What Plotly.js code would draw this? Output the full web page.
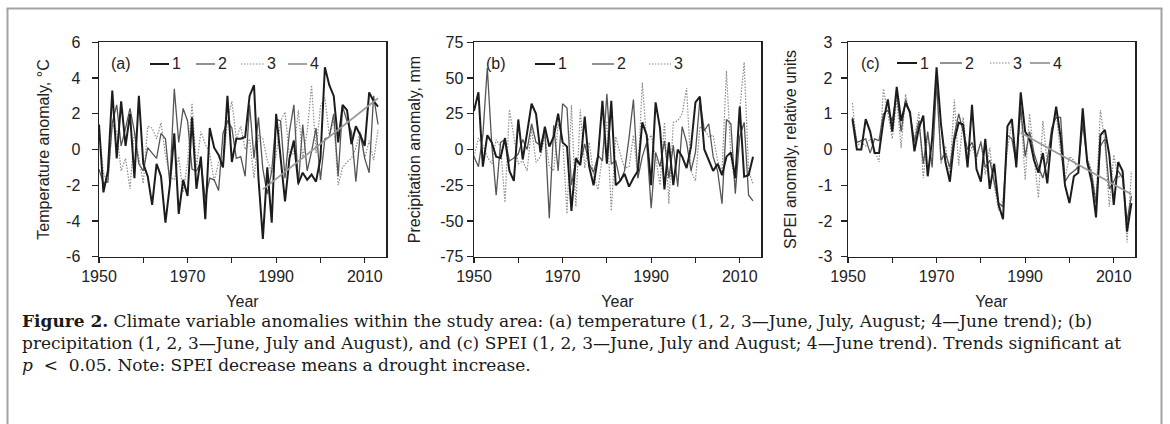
<!DOCTYPE html>
<html><head><meta charset="utf-8">
<script src="https://cdn.plot.ly/plotly-3.0.1.min.js"></script>
<style>html,body{margin:0;padding:0;background:#fff}#chart{width:1170px;height:424px}</style>
</head><body><div id="chart"></div>
<script>
// ---------- DATA ----------
const yearsAB = Array.from({length: 64}, (_, i) => 1950 + i);   // 1950–2013
const yearsC  = Array.from({length: 64}, (_, i) => 1951 + i);   // 1951–2014

// (a) temperature anomaly, °C
const tempJune = [1.4,-2.4,-1.2,3.3,-0.5,2.7,0.2,2.0,-1.6,3.0,-0.8,-1.5,-3.1,-0.8,-1.5,-4.1,-2.0,0.9,-3.6,-1.7,-2.6,1.8,-2.2,-0.4,-3.9,1.2,0.1,-0.3,-1.0,3.0,-0.7,0.6,0.6,0.7,3.0,3.6,-1.6,-5.0,-1.0,-4.1,2.0,-0.3,-2.9,-0.5,0.5,-1.9,-1.3,-1.7,-1.4,-1.8,-0.5,4.6,3.6,3.0,0.4,2.5,2.2,0.3,1.3,0.8,0.2,3.2,2.7,2.4];
const tempJuly = [-1.1,-1.9,-1.8,1.5,2.5,0.2,1.2,2.3,1.0,-0.8,-1.2,0.1,-0.2,-0.5,0.9,0.6,-1.9,3.4,0.4,2.3,1.6,-1.1,-1.2,-0.7,-2.8,-1.6,-1.7,-2.3,0.9,1.6,1.2,-0.5,-0.4,-1.5,2.5,-0.5,1.8,-1.1,-2.5,-1.2,1.7,1.6,-1.6,1.0,2.5,-2.0,1.4,-1.2,-0.1,1.2,-1.7,0.6,0.7,2.0,-1.5,2.4,1.6,1.0,-1.8,0.9,-0.5,-1.3,3.0,1.4];
const tempAug  = [1.2,-1.3,-1.9,1.4,1.0,-1.2,-0.5,-2.2,1.0,-0.5,-1.9,1.3,1.2,0.6,1.5,-0.3,-1.5,-1.7,-0.4,-2.4,-0.7,2.6,-1.0,1.0,0.3,-0.2,-1.8,-0.7,-1.0,1.6,2.7,0.6,1.3,0.0,0.6,-1.6,0.8,0.6,-0.6,-1.3,-0.3,1.6,2.1,-0.4,-0.2,2.2,-0.5,1.0,3.6,-0.2,2.4,2.9,0.8,1.6,-2.0,-1.0,-0.7,-0.5,0.1,1.0,-0.5,0.5,-0.6,1.1];
const tempTrendYears = [1987, 2013];
const tempTrend      = [-2.23, 2.87];

// (b) precipitation anomaly, mm
const precJune = [27,40,-12,10,5,-5,-6,8,-15,-22,21,-7,12,32,25,-2,16,2,9,25,5,2,-43,-6,-11,23,-12,-25,-5,34,-10,34,-25,-22,-17,-26,-20,-15,19,10,-25,33,15,-28,5,-25,0,-5,-13,2,33,37,0,-8,-15,-10,-18,-5,-2,-20,30,-19,-18,-5];
const precJuly = [-5,-12,10,57,4,-32,5,7,-8,-6,-3,7,0,18,5,3,14,-48,17,-15,32,29,-25,-8,-10,4,-10,-16,-4,-8,39,-10,-8,-22,-15,8,35,-20,-5,5,-41,-2,-12,6,-20,3,-26,16,5,-15,-2,35,13,18,-5,-15,-38,21,18,-31,9,19,-32,-36];
const precAug  = [-5,8,3,-5,-10,7,2,-37,28,10,-10,-8,-15,15,-9,-5,10,-12,-15,18,8,-45,31,-40,28,-13,5,-18,-28,-4,20,-43,9,-3,-13,-12,10,-20,47,5,10,-5,-25,19,-38,19,20,25,43,-15,-22,16,14,9,10,-8,-15,55,-5,-25,28,61,-15,-24];

// (c) SPEI anomaly, relative units
const speiJune = [0.85,0.0,0.0,0.85,0.5,-0.1,-0.1,0.8,1.4,0.5,1.75,0.8,1.3,1.05,-0.05,0.6,0.95,-0.75,0.3,2.3,0.7,-0.35,-0.9,0.25,0.75,0.7,-0.5,1.25,-0.55,-0.9,0.3,-1.1,-0.4,-1.55,-1.95,0.65,0.85,-0.5,1.6,0.5,0.3,-0.3,-0.65,-0.1,-0.95,0.4,1.2,0.35,-1.0,-1.5,-0.75,-0.65,1.15,-0.35,-0.9,-1.9,0.4,0.55,-0.15,-1.55,-0.35,-0.6,-2.3,-1.5];
const speiJuly = [0.9,0.2,0.25,0.3,-0.1,0.3,0.25,1.0,1.1,0.8,1.6,0.5,1.4,1.0,0.2,0.8,-0.4,0.5,-0.5,1.9,-0.3,-0.1,-0.5,0.4,1.0,0.5,0.0,0.2,-0.2,0.2,-0.5,-0.3,-0.9,-1.5,-1.6,0.4,0.3,-0.4,1.2,-0.2,0.5,-0.1,-0.5,-0.8,-0.3,0.6,0.9,0.9,-0.9,-0.7,-0.6,-0.5,0.7,-0.3,-0.7,-1.5,0.1,0.3,-1.1,-0.9,-0.6,-0.8,-2.0,-1.3];
const speiAug  = [1.3,0.1,0.2,0.1,0.3,0.0,-0.35,1.7,1.0,0.3,1.4,0.05,1.55,0.9,0.3,1.05,-0.8,0.4,-0.4,2.0,-0.4,0.1,-0.7,1.4,-0.45,0.9,-0.3,0.1,-0.3,0.25,-0.7,0.05,-1.0,-1.7,-1.4,0.0,0.8,-0.3,1.1,-0.85,1.0,-0.2,-1.35,0.8,-0.4,0.5,1.0,-0.1,-0.8,-0.2,-0.3,-0.6,0.9,-0.2,-0.6,-1.4,1.1,0.2,-1.6,-0.15,-0.8,-0.6,-2.6,-0.6];
const speiTrendYears = [1989, 2014];
const speiTrend      = [0.47, -1.25];

// tick labels
const xTickVals = [1950, 1970, 1990, 2010];
const xTickText = ["1950", "1970", "1990", "2010"];
const xMinorTicks = [1960, 1980, 2000];
const yTickValsA = [-6,-4,-2,0,2,4,6];
const yTickTextA = ["-6","-4","-2","0","2","4","6"];
const yTickValsB = [-75,-50,-25,0,25,50,75];
const yTickTextB = ["-75","-50","-25","0","25","50","75"];
const yTickValsC = [-3,-2,-1,0,1,2,3];
const yTickTextC = ["-3","-2","-1","0","1","2","3"];

const panelLabels = ["(a)", "(b)", "(c)"];
const yTitles = ["Temperature anomaly, °C", "Precipitation anomaly, mm", "SPEI anomaly, relative units"];
const legendNames = ["1", "2", "3", "4"];

// ---------- STYLE / LAYOUT ----------
const W = 1170, H = 424;
const px = x => x / W, py = y => 1 - y / H;
const SANS = "Liberation Sans, Arial, sans-serif";
const SERIF = "DejaVu Serif, Liberation Serif, serif";
const AX = "#222";
const st = [
  {color: "#1c1c1c", width: 2.0, dash: "solid"},
  {color: "#555555", width: 1.3, dash: "solid"},
  {color: "#8c8c8c", width: 1.2, dash: "1.5px,1.5px"},
  {color: "#9a9a9a", width: 1.8, dash: "solid"}
];

const doms = [[99, 386], [474, 761], [848, 1135]];
const yDom = [py(256.7), py(42.3)];
const yLabelStandoff = [8, 0, 5];
const yTitleStandoff = [12, 15, 17];

function line(x, y, s, xa, ya) {
  return {type: "scatter", mode: "lines", x: x, y: y, xaxis: xa, yaxis: ya,
          line: {color: st[s].color, width: st[s].width, dash: st[s].dash},
          showlegend: false, hoverinfo: "skip"};
}

const traces = [
  line(yearsAB, tempAug, 2, "x", "y"),
  line(yearsAB, tempJuly, 1, "x", "y"),
  line(yearsAB, tempJune, 0, "x", "y"),
  line(tempTrendYears, tempTrend, 3, "x", "y"),
  line(yearsAB, precAug, 2, "x2", "y2"),
  line(yearsAB, precJuly, 1, "x2", "y2"),
  line(yearsAB, precJune, 0, "x2", "y2"),
  line(yearsC, speiAug, 2, "x3", "y3"),
  line(yearsC, speiJuly, 1, "x3", "y3"),
  line(yearsC, speiJune, 0, "x3", "y3"),
  line(speiTrendYears, speiTrend, 3, "x3", "y3")
];

function xaxis(i, anchor) {
  return {
    domain: [px(doms[i][0]), px(doms[i][1])], anchor: anchor,
    range: [1950, 2014.8], showgrid: false, zeroline: false,
    showline: true, linecolor: AX, linewidth: 1.5, mirror: true,
    ticks: "outside", ticklen: 5, tickwidth: 1.2, tickcolor: AX,
    tickvals: xTickVals, ticktext: xTickText,
    minor: {tickvals: xMinorTicks, ticks: "outside", ticklen: 5, tickwidth: 1.2, tickcolor: AX, showgrid: false},
    tickfont: {family: SANS, size: 16, color: AX},
    title: {text: "Year", font: {family: SANS, size: 16, color: AX}, standoff: 11}
  };
}
function yaxis(i, anchor, range, tv, tt) {
  return {
    domain: yDom, anchor: anchor, range: range, showgrid: false, zeroline: false,
    showline: true, linecolor: AX, linewidth: 1.5, mirror: true,
    ticks: "outside", ticklen: 6, tickwidth: 1.2, tickcolor: AX,
    tickvals: tv, ticktext: tt, ticklabelstandoff: yLabelStandoff[i],
    tickfont: {family: SANS, size: 16, color: AX},
    title: {text: yTitles[i], font: {family: SANS, size: 16, color: AX}, standoff: yTitleStandoff[i]}
  };
}

// manual in-plot legends (pixel positions)
const legendSpecs = [
  {label: [121, 64], items: [[150,169,0],[196,215,1],[241,264,2],[288,307,3]], y: 64},
  {label: [496, 64], items: [[535,555,0],[592,614,1],[649,671,2]], y: 64},
  {label: [870, 63], items: [[897,917,0],[940,962,1],[990,1010,2],[1030,1050,3]], y: 63}
];

const shapes = [
  // outer figure frame (left, top, right)
  {type: "line", xref: "paper", yref: "paper", x0: px(7.5), x1: px(7.5), y0: py(8.5), y1: py(424), line: {color: "#a3a3a3", width: 2}},
  {type: "line", xref: "paper", yref: "paper", x0: px(6.5), x1: px(1162.5), y0: py(8.5), y1: py(8.5), line: {color: "#a3a3a3", width: 2}},
  {type: "line", xref: "paper", yref: "paper", x0: px(1161.5), x1: px(1161.5), y0: py(8.5), y1: py(424), line: {color: "#a3a3a3", width: 2}}
];
const annotations = [];
legendSpecs.forEach((L, i) => {
  annotations.push({xref: "paper", yref: "paper", x: px(L.label[0]), y: py(L.label[1]),
    xanchor: "center", yanchor: "middle", showarrow: false, text: panelLabels[i],
    font: {family: SANS, size: 16, color: AX}});
  L.items.forEach(it => {
    const s = st[it[2]];
    shapes.push({type: "line", xref: "paper", yref: "paper", x0: px(it[0]), x1: px(it[1]),
      y0: py(L.y), y1: py(L.y), line: {color: s.color, width: s.width, dash: s.dash}});
    annotations.push({xref: "paper", yref: "paper", x: px(it[1] + 1), y: py(L.y),
      xanchor: "left", yanchor: "middle", showarrow: false, text: legendNames[it[2]],
      font: {family: SANS, size: 16, color: AX}});
  });
});

// caption (one block, three lines)
const captionLines = [
  "<b>Figure 2.</b> Climate variable anomalies within the study area: (a) temperature (1, 2, 3—June, July, August; 4—June trend); (b)",
  "precipitation (1, 2, 3—June, July and August), and (c) SPEI (1, 2, 3—June, July and August; 4—June trend). Trends significant at",
  "<i>p</i>  &lt;  0.05. Note: SPEI decrease means a drought increase."
];
annotations.push({xref: "paper", yref: "paper", x: px(20), y: py(342.5),
  xanchor: "left", yanchor: "middle", showarrow: false, text: captionLines.join("<br>"), align: "left",
  font: {family: SERIF, size: 17, color: "#1a1a1a"}});

const layout = {
  width: W, height: H, margin: {l: 0, r: 0, t: 0, b: 0},
  paper_bgcolor: "#fff", plot_bgcolor: "#fff", showlegend: false,
  xaxis: xaxis(0, "y"), yaxis: yaxis(0, "x", [-6, 6], yTickValsA, yTickTextA),
  xaxis2: xaxis(1, "y2"), yaxis2: yaxis(1, "x2", [-75, 75], yTickValsB, yTickTextB),
  xaxis3: xaxis(2, "y3"), yaxis3: yaxis(2, "x3", [-3, 3], yTickValsC, yTickTextC),
  shapes: shapes, annotations: annotations
};

Plotly.newPlot("chart", traces, layout, {staticPlot: true, displayModeBar: false});
</script>
</body></html>
